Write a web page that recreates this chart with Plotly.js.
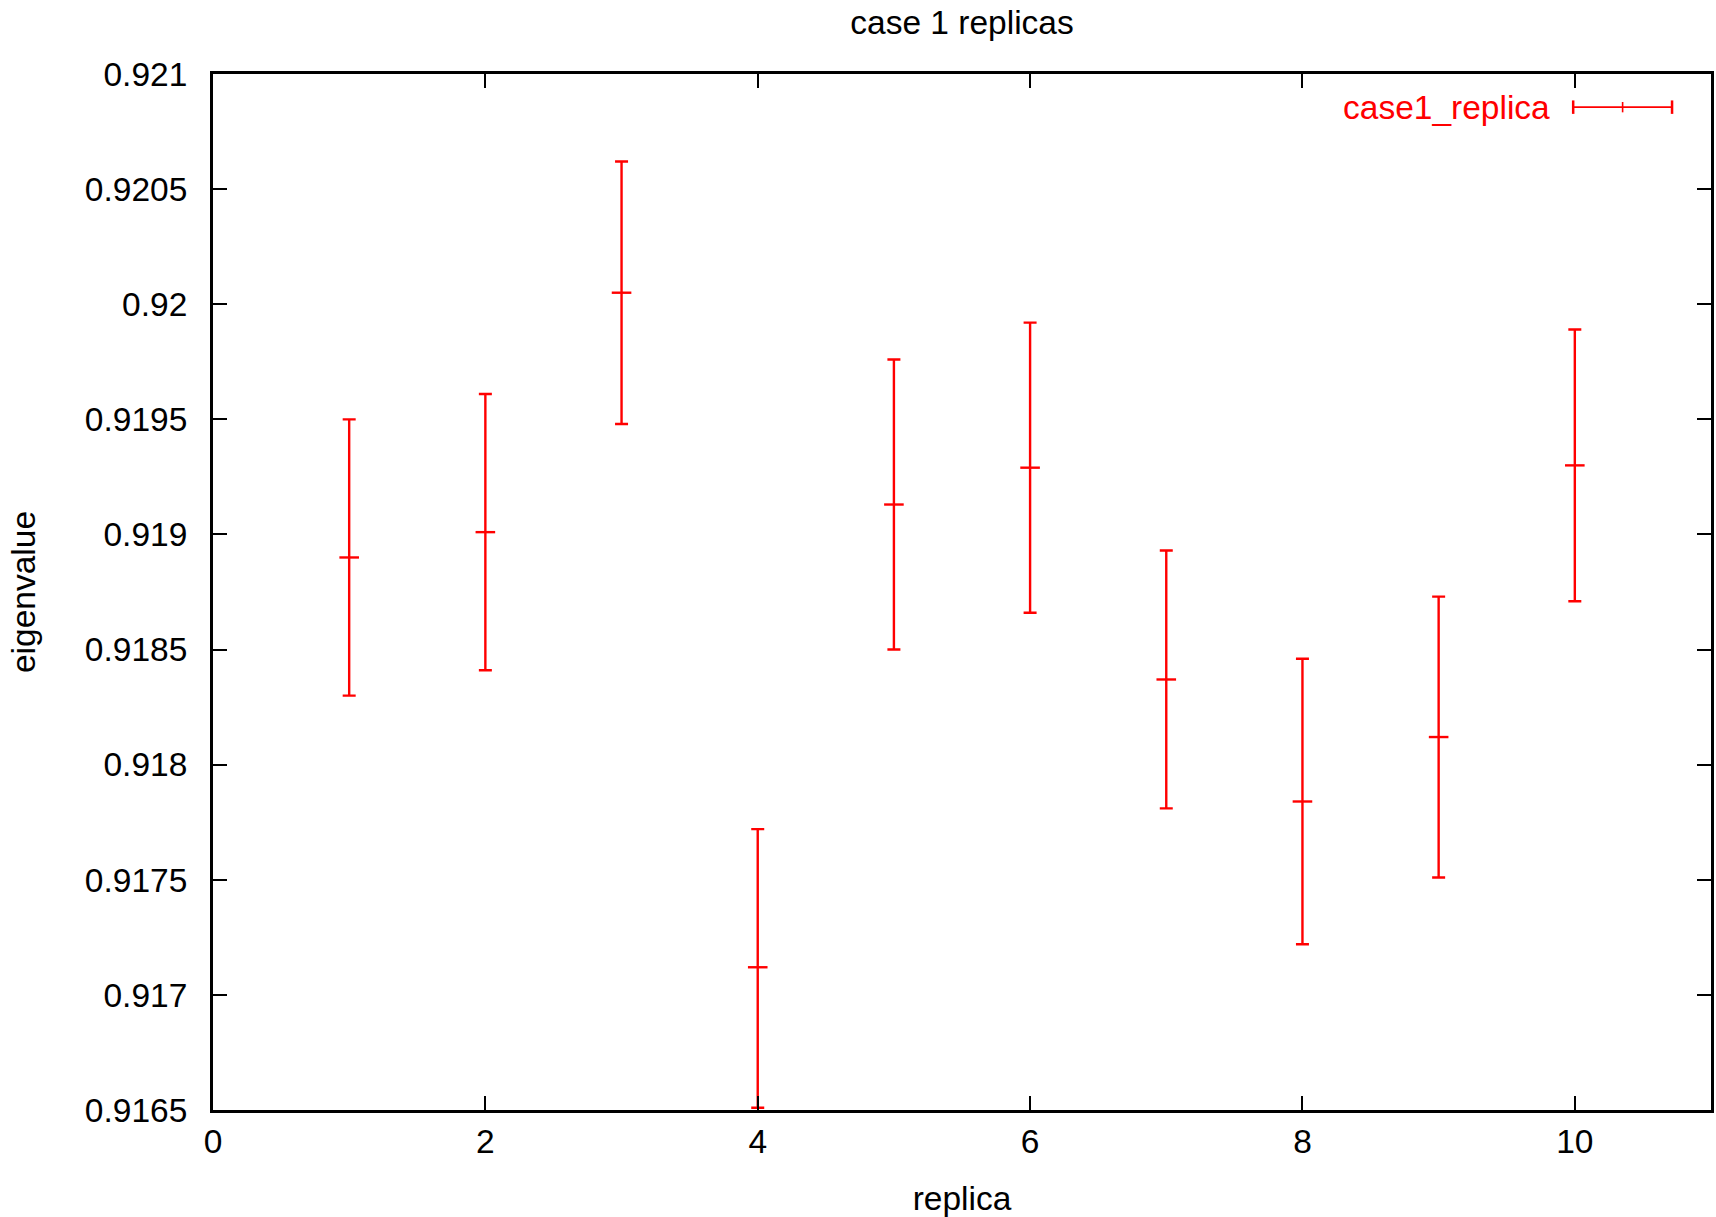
<!DOCTYPE html>
<html>
<head>
<meta charset="utf-8">
<script src="https://cdn.plot.ly/plotly-3.0.1.min.js"></script>
<style>html,body{margin:0;padding:0;background:#fff;}#chart{width:1716px;height:1217px;}</style>
</head>
<body>
<div id="chart"></div>
<script>
// Data
const replica = [1, 2, 3, 4, 5, 6, 7, 8, 9, 10];
const eigenvalue = [0.91890, 0.91901, 0.92005, 0.91712, 0.91913, 0.91929, 0.91837, 0.91784, 0.91812, 0.91930];
const errUpper = [0.00060, 0.00060, 0.00057, 0.00060, 0.00063, 0.00063, 0.00056, 0.00062, 0.00061, 0.00059];
const errLower = [0.00060, 0.00060, 0.00057, 0.00061, 0.00063, 0.00063, 0.00056, 0.00062, 0.00061, 0.00059];
const xTicks = [0, 2, 4, 6, 8, 10];
const yTicks = [0.9165, 0.917, 0.9175, 0.918, 0.9185, 0.919, 0.9195, 0.92, 0.9205, 0.921];
const yTickText = ['0.9165', '0.917', '0.9175', '0.918', '0.9185', '0.919', '0.9195', '0.92', '0.9205', '0.921'];
const seriesName = 'case1_replica';

const FONT = 'Liberation Sans, Arial, sans-serif';
const FS = 33.5;
const RED = '#ff0000';

const trace = {
  x: replica,
  y: eigenvalue,
  type: 'scatter',
  mode: 'markers',
  name: seriesName,
  showlegend: false,
  marker: {symbol: 'line-ew', size: 14, color: RED, line: {color: RED, width: 2.4}},
  error_y: {type: 'data', symmetric: false, array: errUpper, arrayminus: errLower,
            color: RED, thickness: 2.4, width: 6.5},
  cliponaxis: false
};

// legend sample geometry (paper coords)
const lx0 = 0.908, lx1 = 0.974, ly = 0.968;
const layout = {
  width: 1716, height: 1217,
  paper_bgcolor: '#fff', plot_bgcolor: '#fff',
  margin: {l: 213, r: 5, t: 74, b: 107},
  font: {family: FONT, size: FS, color: '#000'},
  title: {text: 'case 1 replicas', font: {family: FONT, size: FS, color: '#000'},
          x: 0.5, xref: 'paper', y: 1 - 22/1217, yanchor: 'middle'},
  xaxis: {
    range: [0, 11], tickvals: xTicks, ticktext: xTicks.map(String),
    ticks: 'inside', ticklen: 14, tickwidth: 2, tickcolor: '#000',
    showline: true, linecolor: '#000', linewidth: 3, mirror: 'ticks',
    showgrid: false, zeroline: false, ticklabelstandoff: 0,
    tickfont: {family: FONT, size: FS, color: '#000'},
    title: {text: 'replica', font: {family: FONT, size: FS, color: '#000'}, standoff: 30}
  },
  yaxis: {
    range: [0.9165, 0.921], tickvals: yTicks, ticktext: yTickText,
    ticks: 'inside', ticklen: 14, tickwidth: 2, tickcolor: '#000',
    showline: true, linecolor: '#000', linewidth: 3, mirror: 'ticks',
    showgrid: false, zeroline: false, ticklabelstandoff: 16,
    tickfont: {family: FONT, size: FS, color: '#000'},
    title: {text: 'eigenvalue', font: {family: FONT, size: FS, color: '#000'}, standoff: 40}
  },
  annotations: [{
    text: seriesName, xref: 'paper', yref: 'paper', x: 0.894, y: ly,
    xanchor: 'right', yanchor: 'middle', showarrow: false,
    font: {family: FONT, size: FS, color: RED}
  }],
  shapes: [
    {type: 'line', xref: 'paper', yref: 'paper', x0: lx0, x1: lx1, y0: ly, y1: ly, line: {color: RED, width: 1.6}},
    {type: 'line', xref: 'paper', yref: 'paper', x0: lx0, x1: lx0, y0: ly - 0.0065, y1: ly + 0.0065, line: {color: RED, width: 2.5}},
    {type: 'line', xref: 'paper', yref: 'paper', x0: lx1, x1: lx1, y0: ly - 0.0065, y1: ly + 0.0065, line: {color: RED, width: 2.5}},
    {type: 'line', xref: 'paper', yref: 'paper', x0: (lx0 + lx1) / 2, x1: (lx0 + lx1) / 2, y0: ly - 0.005, y1: ly + 0.005, line: {color: RED, width: 1.6}}
  ],
  showlegend: false
};

Plotly.newPlot('chart', [trace], layout, {displayModeBar: false, staticPlot: true});
</script>
</body>
</html>
